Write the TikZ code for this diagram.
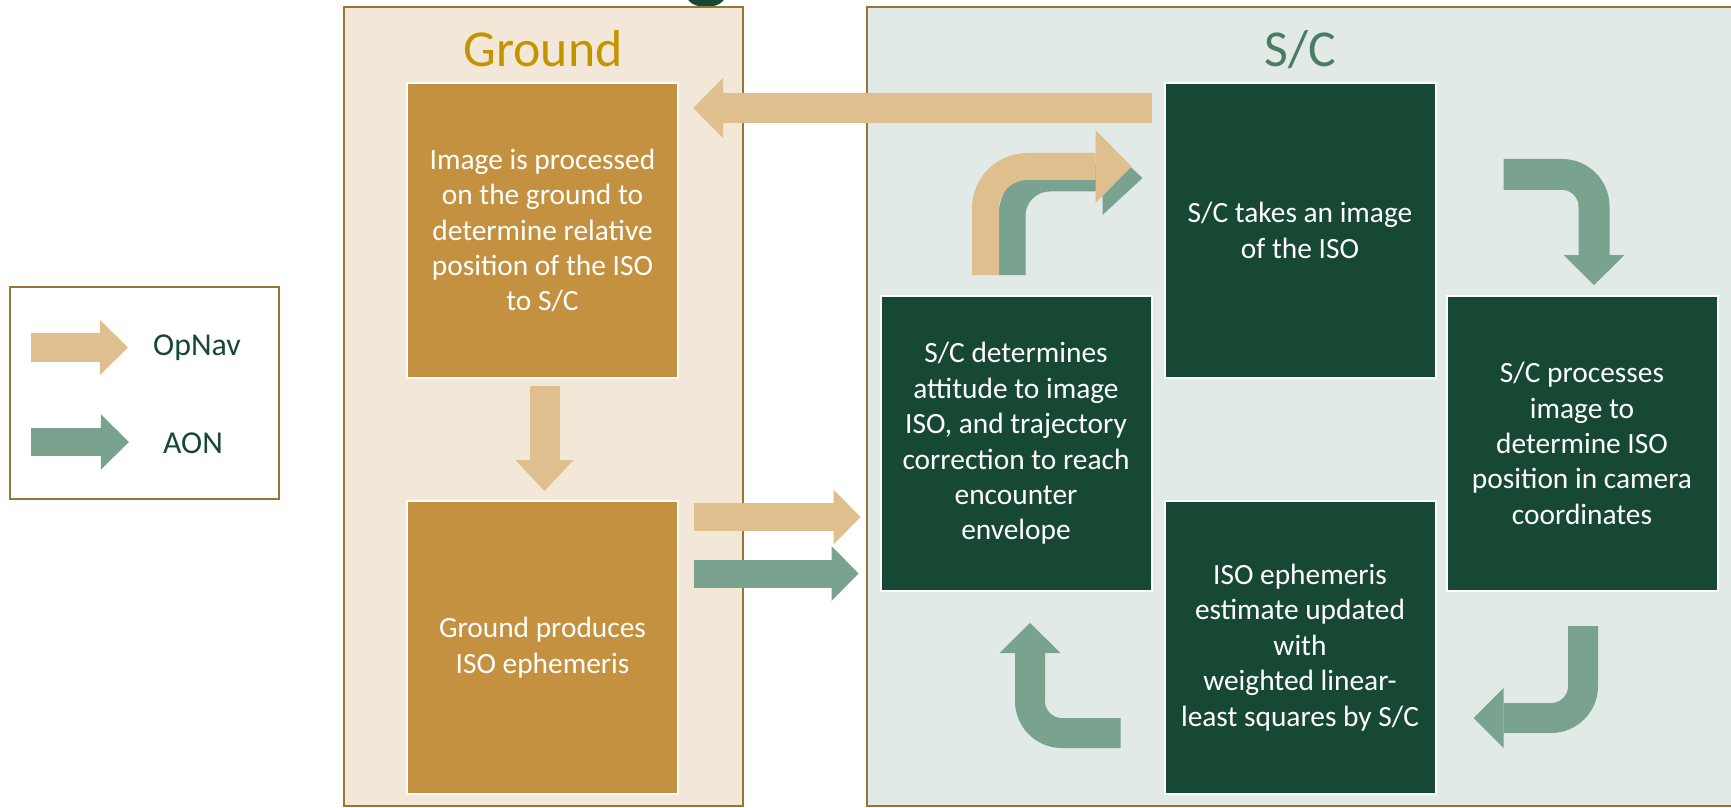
\documentclass[tikz,border=0pt]{standalone}
\usepackage{fontspec}
\setmainfont{Carlito}
\usetikzlibrary{arrows.meta,calc}
\definecolor{gpanel}{HTML}{F3E7D8}
\definecolor{spanel}{HTML}{E1EAE6}
\definecolor{pborder}{HTML}{9A7436}
\definecolor{gbox}{HTML}{C49140}
\definecolor{sbox}{HTML}{174834}
\definecolor{opnav}{HTML}{DFBF8D}
\definecolor{aon}{HTML}{79A28F}
\definecolor{gtitle}{HTML}{C49400}
\definecolor{stitle}{HTML}{4B7B63}
\tikzset{
  panel/.style={draw=pborder, line width=2.5bp},
  boxtxt/.style={text=white, font=\fontsize{29.5}{35.5}\selectfont, align=center,
    inner sep=0pt, outer sep=0pt, draw=white, line width=2bp, minimum width=271bp},
  gboxs/.style={boxtxt, fill=gbox},
  sboxs/.style={boxtxt, fill=sbox},
  flow/.style n args={3}{line width=#1, -{Triangle[length=#2, width=#3, line width=0pt]}},
  titletxt/.style={font=\fontsize{52}{60}\selectfont, anchor=base, inner sep=0pt},
  legtxt/.style={text=sbox, font=\fontsize{32}{38}\selectfont, inner sep=0pt}
}
\begin{document}
\begin{tikzpicture}[x=1bp,y=-1bp]
\useasboundingbox (0,0) rectangle (1731,808);
\clip (0,0) rectangle (1731,808);
\fill[white] (0,0) rectangle (1731,808);

% fragment of cut-off heading
\fill[sbox] (706,-4) ellipse [x radius=19, y radius=11];

% panels
\filldraw[panel, fill=gpanel] (344,7) rectangle (743,806);
\filldraw[panel, fill=spanel] (867,7) rectangle (1740,806);

\node[titletxt, text=gtitle] (gtitle) at (543,67) {Ground};
\node[titletxt, text=stitle] (stitle) at (1300,67) {S/C};

% ground boxes
\node[gboxs, minimum height=295bp] (g1) at (542.5,230.5)
  {Image is processed\\on the ground to\\determine relative\\position of the ISO\\to S/C};
\node[gboxs, minimum height=293bp] (g2) at (542.5,647.5)
  {Ground produces\\ISO ephemeris};

% S/C boxes
\node[sboxs, minimum height=295bp] (sc1) at (1300,230.5)
  {S/C takes an image\\of the ISO};
\node[sboxs, minimum height=295bp] (sc2) at (1016,443.5)
  {S/C determines\\attitude to image\\ISO, and trajectory\\correction to reach\\encounter\\envelope};
\node[sboxs, minimum height=295bp] (sc3) at (1582,443.5)
  {S/C processes\\image to\\determine ISO\\position in camera\\coordinates};
\node[sboxs, minimum height=293bp] (sc4) at (1300,647.5)
  {ISO ephemeris\\estimate updated\\with\\weighted linear-\\least squares by S/C};

% arrows
\draw[opnav, flow={30bp}{30bp}{60bp}] ($(sc1.north west)+(-13,25)$) -- ($(g1.north east)+(15,25)$);
\draw[opnav, flow={30bp}{31bp}{58bp}] ($(g1.south)+(2,8)$) -- ($(g2.north)+(2,-10)$);
\draw[opnav, flow={28bp}{27bp}{55bp}] ($(g2.north east)+(16,16)$) -- ($(sc2.west |- g2.north)+(-20,16)$);
\draw[aon, flow={28bp}{27bp}{55bp}] ($(g2.north east)+(16,72.5)$) -- ($(sc2.west |- g2.north)+(-22,72.5)$);

\draw[aon, flow={27bp}{40bp}{74bp}, rounded corners=38] ($(sc2.north)+(-4,-21)$) |- ($(sc1.north west)+(-22,95)$);
\draw[opnav, flow={27bp}{36bp}{73bp}, rounded corners=42] ($(sc2.north)+(-30.5,-21)$) |- ($(sc1.north west)+(-33,83.5)$);

\draw[aon, flow={31bp}{30bp}{61bp}, rounded corners=32] ($(sc1.north east)+(68,91.5)$) -| ($(sc3.north)+(12,-11)$);
\draw[aon, flow={30bp}{30bp}{60bp}, rounded corners=32] ($(sc3.south)+(1,35)$) |- ($(sc4.east)+(38,70.5)$);
\draw[aon, flow={30bp}{30bp}{61bp}, rounded corners=32] ($(sc4.west)+(-44,85.5)$) -| ($(sc2.south)+(14,32)$);

% legend
\node[draw=pborder, line width=2.5bp, minimum width=269bp, minimum height=212bp, inner sep=0pt, outer sep=0pt] (legend) at (144.5,393) {};
\coordinate (l1a) at ($(legend.north west)+(21,60.5)$);
\coordinate (l1b) at ($(legend.north west)+(118,60.5)$);
\coordinate (l2a) at ($(legend.north west)+(21,155)$);
\coordinate (l2b) at ($(legend.north west)+(119,155)$);
\draw[opnav, flow={29bp}{28bp}{55bp}] (l1a) -- (l1b);
\draw[aon, flow={28bp}{28bp}{55bp}] (l2a) -- (l2b);
\node[legtxt] (lopnav) at (197,348) {OpNav};
\node[legtxt] (laon) at (193,443) {AON};
\end{tikzpicture}
\end{document}
